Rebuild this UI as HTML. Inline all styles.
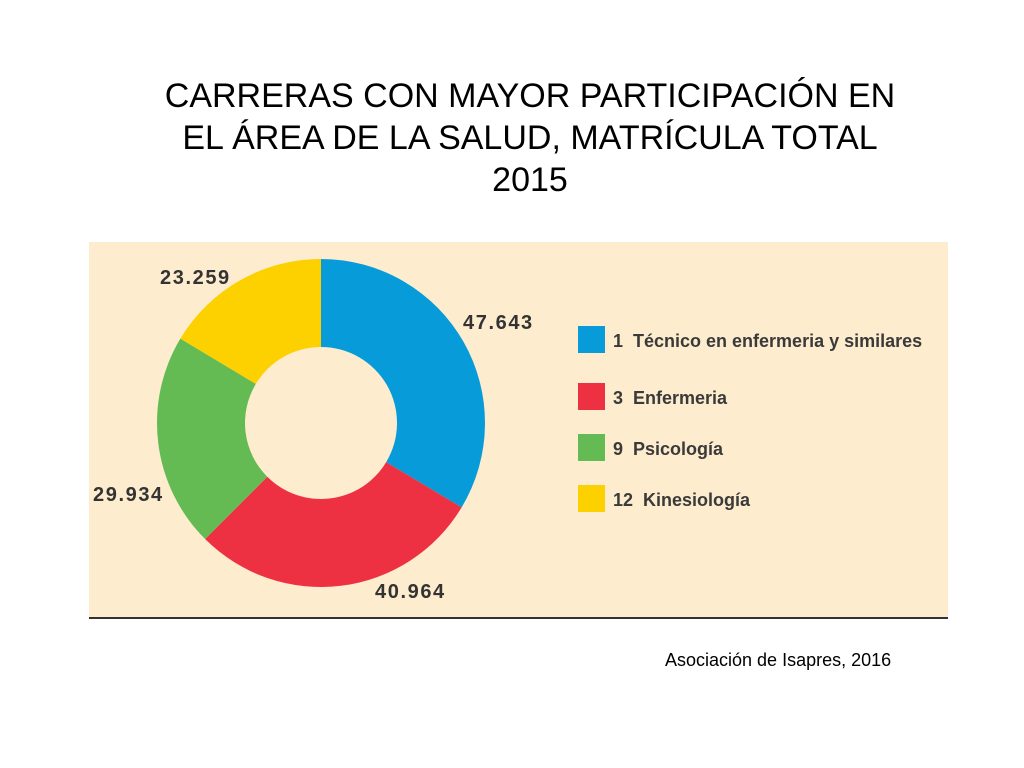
<!DOCTYPE html>
<html><head><meta charset="utf-8"><style>
body{margin:0;width:1024px;height:768px;background:#fff;font-family:"Liberation Sans",sans-serif;position:relative;overflow:hidden}
#title{position:absolute;left:0;width:1060px;top:75px;text-align:center;font-size:34px;line-height:42px;color:#000}
#src{position:absolute;left:665px;top:650px;font-size:18px;color:#000}
svg{position:absolute;left:0;top:0}
</style></head><body>
<div id="title">CARRERAS CON MAYOR PARTICIPACIÓN EN<br>EL ÁREA DE LA SALUD, MATRÍCULA TOTAL<br>2015</div>
<svg id="chart" width="1024" height="768">
<rect x="89" y="242" width="859" height="375" fill="#fdeccd"/>
<line x1="89" y1="618" x2="948" y2="618" stroke="#333" stroke-width="2"/>
</svg>
<div id="src">Asociación de Isapres, 2016</div>
<script>
const categories=["1  Técnico en enfermeria y similares","3  Enfermeria","9  Psicología","12  Kinesiología"];
const values=[47643,40964,29934,23259];
const valueLabels=["47.643","40.964","29.934","23.259"];
const colors=["#079cd9","#ee3142","#64bb53","#fdd000"];
const NS="http://www.w3.org/2000/svg";
const svg=document.getElementById("chart");
const cx=321,cy=423,R=164,r=76;
const total=values.reduce((a,b)=>a+b,0);
function pt(a,rad){return [cx+rad*Math.sin(a),cy-rad*Math.cos(a)];}
let a0=0;
const labelPos=[[463,329],[375,598],[93,501],[160,284]];
values.forEach((v,i)=>{
  const a1=a0+v/total*2*Math.PI;
  const [x0,y0]=pt(a0,R),[x1,y1]=pt(a1,R),[x2,y2]=pt(a1,r),[x3,y3]=pt(a0,r);
  const lg=(a1-a0)>Math.PI?1:0;
  const p=document.createElementNS(NS,"path");
  p.setAttribute("d",`M${x0},${y0}A${R},${R} 0 ${lg} 1 ${x1},${y1}L${x2},${y2}A${r},${r} 0 ${lg} 0 ${x3},${y3}Z`);
  p.setAttribute("fill",colors[i]);
  
  
  svg.appendChild(p);
  const t=document.createElementNS(NS,"text");
  t.setAttribute("x",labelPos[i][0]);t.setAttribute("y",labelPos[i][1]);
  t.setAttribute("font-size","20");t.setAttribute("font-weight","bold");t.setAttribute("fill","#333");
  t.setAttribute("letter-spacing","1.6");
  t.setAttribute("font-family","Liberation Sans, sans-serif");
  t.textContent=valueLabels[i];
  
  
  svg.appendChild(t);
  const sy=[326,383,434,485][i];
  const s=document.createElementNS(NS,"rect");
  s.setAttribute("x",578);s.setAttribute("y",sy);s.setAttribute("width",27);s.setAttribute("height",27);s.setAttribute("fill",colors[i]);
  
  
  svg.appendChild(s);
  const lt=document.createElementNS(NS,"text");
  lt.setAttribute("x",613);lt.setAttribute("y",sy+21);
  lt.setAttribute("font-size","18");lt.setAttribute("fill","#3a3a3a");lt.setAttribute("font-weight","bold");
  lt.setAttribute("font-family","Liberation Sans, sans-serif");
  lt.setAttribute("style","white-space:pre");
  lt.textContent=categories[i];
  
  
  svg.appendChild(lt);
  a0=a1;
});
</script>
</body></html>
